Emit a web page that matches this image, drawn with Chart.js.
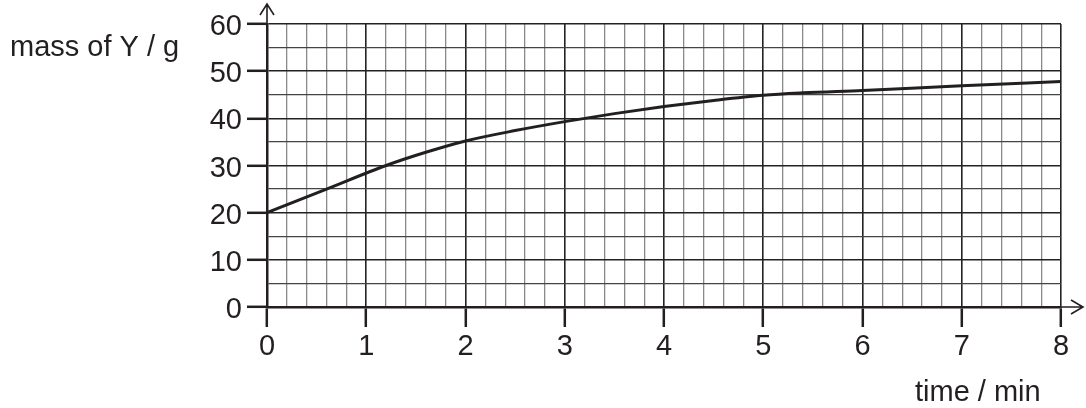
<!DOCTYPE html>
<html>
<head>
<meta charset="utf-8">
<script src="https://cdn.jsdelivr.net/npm/chart.js@4"></script>
<style>
  html, body { margin: 0; padding: 0; background: #fff; }
  #wrap { width: 1086px; height: 408px; }
</style>
</head>
<body>
<div id="wrap"><canvas id="massChart"></canvas></div>
<script>
// values
const timeMin = [0, 0.6, 1.2, 1.6, 2, 2.5, 3, 3.5, 4, 4.5, 5, 5.4, 6, 7, 8];
const massY   = [20, 25, 30, 32.8, 35.2, 37.4, 39.3, 41.0, 42.5, 43.8, 44.9, 45.4, 45.9, 46.9, 47.8];
const xLabel = 'time / min';
const yLabel = 'mass of Y / g';

const FONT = '"Liberation Sans", Arial, sans-serif';
const INK = '#231f20';

const isWhole = (v, step) => Math.abs(v / step - Math.round(v / step)) < 1e-6;

// axis arrows + free-standing axis labels
const axisDecor = {
    id: 'axisDecor',
    afterDraw(chart) {
        const { ctx, chartArea: a } = chart;
        ctx.save();
        ctx.strokeStyle = INK;
        ctx.lineWidth = 1.6;
        ctx.beginPath();
        ctx.moveTo(a.right, a.bottom); ctx.lineTo(a.right + 22, a.bottom);
        ctx.moveTo(a.right + 10, a.bottom - 7); ctx.lineTo(a.right + 22, a.bottom); ctx.lineTo(a.right + 10, a.bottom + 7);
        ctx.moveTo(a.left, a.top); ctx.lineTo(a.left, a.top - 20);
        ctx.moveTo(a.left - 7, a.top - 9); ctx.lineTo(a.left, a.top - 20); ctx.lineTo(a.left + 7, a.top - 9);
        ctx.stroke();

        ctx.fillStyle = INK;
        ctx.font = '29px ' + FONT;
        ctx.textBaseline = 'alphabetic';
        ctx.textAlign = 'left';
        ctx.fillText(yLabel, 10, 56);
        ctx.fillText(xLabel, 915, 401);
        ctx.restore();
    }
};

new Chart(document.getElementById('massChart'), {
    type: 'line',
    data: {
        datasets: [{
            data: timeMin.map((t, i) => ({ x: t, y: massY[i] })),
            borderColor: INK,
            borderWidth: 3,
            pointRadius: 0,
            cubicInterpolationMode: 'monotone',
            fill: false
        }]
    },
    options: {
        responsive: true, maintainAspectRatio: false,
        animation: false,
        layout: { padding: { top: 24, right: 25, bottom: 0, left: 0 } },
        plugins: { legend: { display: false }, tooltip: { enabled: false } },
        scales: {
            x: {
                type: 'linear', min: 0, max: 8,
                afterFit: s => { s.height = 101; },
                border: { color: INK, width: 2.5 },
                grid: {
                    color: c => isWhole(c.tick.value, 1) ? '#222' : '#8a8a8a',
                    lineWidth: c => isWhole(c.tick.value, 1) ? 1.6 : 1.3,
                    tickColor: c => isWhole(c.tick.value, 1) ? INK : 'rgba(0,0,0,0)',
                    tickLength: 20,
                    tickWidth: 2.5
                },
                ticks: {
                    stepSize: 0.2, autoSkip: false, maxRotation: 0,
                    color: INK, font: { family: FONT, size: 29 }, padding: 3,
                    callback: v => isWhole(v, 1) ? Math.round(v) : ''
                }
            },
            y: {
                min: 0, max: 60,
                afterFit: s => { s.width = 267; },
                border: { color: INK, width: 2.5 },
                grid: {
                    color: c => isWhole(c.tick.value, 10) ? '#222' : '#444',
                    lineWidth: c => isWhole(c.tick.value, 10) ? 1.6 : 1.3,
                    tickColor: c => isWhole(c.tick.value, 10) ? INK : 'rgba(0,0,0,0)',
                    tickLength: 20,
                    tickWidth: 2.5
                },
                ticks: {
                    stepSize: 5, autoSkip: false,
                    color: INK, font: { family: FONT, size: 29 }, padding: 5,
                    labelOffset: 3,
                    callback: v => isWhole(v, 10) ? Math.round(v) : ''
                }
            }
        }
    },
    plugins: [axisDecor]
});
</script>
</body>
</html>
